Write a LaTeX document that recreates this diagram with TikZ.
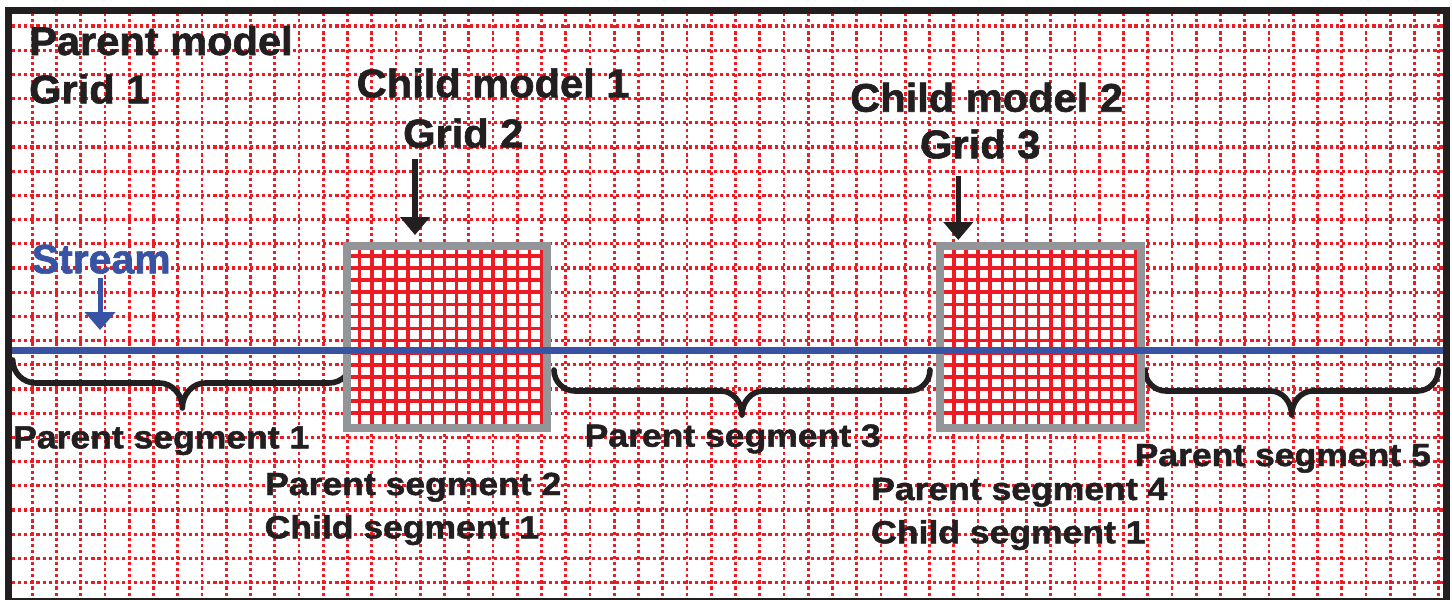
\documentclass[tikz,border=0pt]{standalone}
\usepackage{graphicx}
\usepackage{fontspec}
\setmainfont{Liberation Sans}
\newfontfamily\heavyfont{Liberation Sans}[BoldFont={Liberation Sans Bold}, BoldFeatures={FakeBold=1.5}]
\usetikzlibrary{arrows.meta}
\definecolor{gridred}{HTML}{ED1C24}
\definecolor{framegray}{HTML}{939598}
\definecolor{streamblue}{HTML}{3953A4}
\definecolor{inkblack}{HTML}{231F20}
\newcommand{\wide}[2]{\scalebox{#1}[1]{#2}}
\newcommand{\segbrace}[5]{% x1, x2, y0, h, A
  \pgfmathsetmacro{\bracemid}{(#1+#2)/2}
  \draw[segbr] (#1,#3) .. controls (#1,{#3+0.55*#4}) and ({#1+0.45*#4},{#3+#4}) .. ({#1+#4},{#3+#4})
    -- ({\bracemid-#4},{#3+#4}) .. controls ({\bracemid-0.45*#4},{#3+#4}) and (\bracemid,{#3+#4+0.45*(#5-#4)}) .. (\bracemid,{#3+#5})
    .. controls (\bracemid,{#3+#4+0.45*(#5-#4)}) and ({\bracemid+0.45*#4},{#3+#4}) .. ({\bracemid+#4},{#3+#4})
    -- ({#2-#4},{#3+#4}) .. controls ({#2-0.45*#4},{#3+#4}) and (#2,{#3+0.55*#4}) .. (#2,#3);
}
\tikzset{
  hdot/.style={gridred, line width=3.3pt, dash pattern=on 3.2pt off 2.9pt},
  vdot/.style={gridred, line width=2.8pt, dash pattern=on 3.2pt off 2.9pt},
  fineline/.style={gridred, line width=3.6pt},
  childframe/.style={draw=framegray, line width=8pt, fill=none, inner sep=0pt,
    minimum width=200.5pt, minimum height=182pt},
  segbr/.style={inkblack, line width=5.6pt, line cap=round, line join=round},
  blkarrow/.style={inkblack, line width=5.6pt, -{Triangle[width=29pt,length=18pt]}},
  bluearrow/.style={streamblue, line width=5pt, -{Triangle[width=30pt,length=18pt]}},
  titletext/.style={anchor=base west, inner sep=0pt, text=inkblack,
    font=\fontsize{40}{48}\selectfont\heavyfont\bfseries},
  segtext/.style={anchor=base west, inner sep=0pt, text=inkblack,
    font=\fontsize{32}{38}\selectfont\heavyfont\bfseries},
  streamtext/.style={anchor=base west, inner sep=0pt, text=streamblue,
    font=\fontsize{41}{48}\selectfont\heavyfont\bfseries},
}
\begin{document}
\begin{tikzpicture}[x=1pt,y=-1pt]
\useasboundingbox (0,0) rectangle (1452,600);
\fill[white] (0,0) rectangle (1452,600);
% parent grid
\foreach \k in {0,...,23}{
  \draw[hdot] (12,{26+24.2*\k}) -- (1443,{26+24.2*\k});
}
\foreach \k in {0,...,58}{
  \draw[vdot] ({32.3+24.25*\k},13) -- ({32.3+24.25*\k},597);
}
% braces (brace 1 partly under child grid 1)
\segbrace{12.7}{352}{360}{23}{48}
\segbrace{554}{930}{370}{21}{45}
\segbrace{1145}{1438.3}{370}{21}{45}
% child grid 1
\fill[white] (346.5,246) rectangle (547,428);
\begin{scope}
  \clip (346.5,246) rectangle (547,428);
  \foreach \j in {26,...,42}{ \draw[fineline] ({32.3+12.125*\j},240) -- ({32.3+12.125*\j},434); }
  \foreach \i in {18,...,33}{ \draw[fineline] (340,{26+12.1*\i}) -- (553,{26+12.1*\i}); }
\end{scope}
\node[childframe] (child1) at (446.75,337) {};
% child grid 2
\fill[white] (940.3,246) rectangle (1140.5,428);
\begin{scope}
  \clip (940.3,246) rectangle (1140.5,428);
  \foreach \j in {75,...,91}{ \draw[fineline] ({32.3+12.125*\j},240) -- ({32.3+12.125*\j},434); }
  \foreach \i in {18,...,33}{ \draw[fineline] (934,{26+12.1*\i}) -- (1147,{26+12.1*\i}); }
\end{scope}
\node[childframe] (child2) at (1040.4,337) {};
% stream
\coordinate (streamW) at (12,350.5);
\coordinate (streamE) at (1443,350.5);
\draw[streamblue, line width=7pt] (streamW) -- (streamE);
% frame
\draw[inkblack, line width=7pt] (8,10.5) rectangle (1446.7,601);
% texts
\node[titletext] (pm) at (29,55) {\wide{1.04}{Parent model}};
\node[titletext] (g1) at (29,103.3) {\wide{1.04}{Grid 1}};
\node[titletext] (cm1) at (356.5,97.3) {\wide{1.04}{Child model 1}};
\node[titletext] (g2) at (403,147.3) {\wide{1.04}{Grid 2}};
\node[titletext] (cm2) at (850,111.7) {\wide{1.04}{Child model 2}};
\node[titletext] (g3) at (920,158.3) {\wide{1.04}{Grid 3}};
\node[streamtext] (st) at (31.5,273.3) {Stream};
\node[segtext] (ps1) at (13,448.3) {\wide{1.11}{Parent segment 1}};
\node[segtext] (ps3) at (584.5,446.7) {\wide{1.11}{Parent segment 3}};
\node[segtext] (ps5) at (1134.5,466) {\wide{1.11}{Parent segment 5}};
\node[segtext] (ps2) at (265,495) {\wide{1.11}{Parent segment 2}};
\node[segtext] (cs1a) at (264.5,538.3) {\wide{1.11}{Child segment 1}};
\node[segtext] (ps4) at (871,500) {\wide{1.11}{Parent segment 4}};
\node[segtext] (cs1b) at (871,543.3) {\wide{1.11}{Child segment 1}};
% arrows
\coordinate (a1s) at (415,159);
\coordinate (a1e) at (415,235);
\coordinate (a2s) at (958.3,176);
\coordinate (a2e) at (958.3,240);
\coordinate (a3s) at (100,278);
\coordinate (a3e) at (100,330);
\draw[blkarrow] (a1s) -- (a1e);
\draw[blkarrow] (a2s) -- (a2e);
\draw[bluearrow] (a3s) -- (a3e);
\end{tikzpicture}
\end{document}
